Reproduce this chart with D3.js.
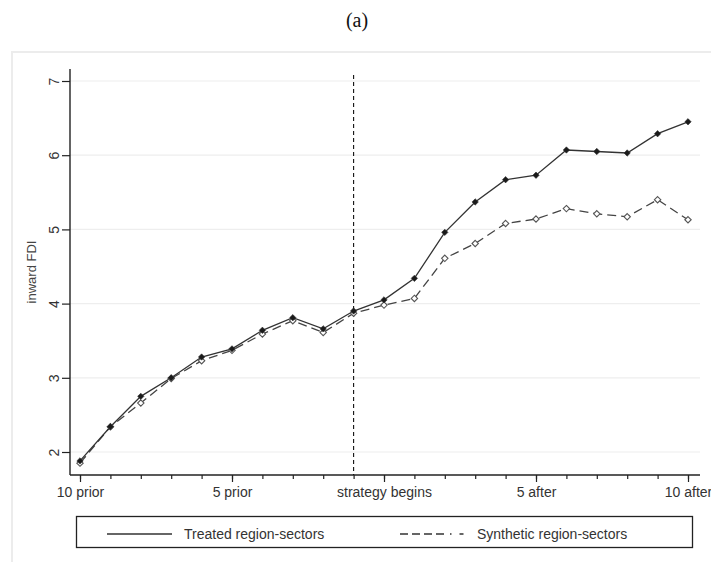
<!DOCTYPE html>
<html>
<head>
<meta charset="utf-8">
<script src="https://cdn.jsdelivr.net/npm/d3@7"></script>
<style>
    body { margin: 0; background: #fff; }
    text { font-family: "Liberation Sans", Arial, sans-serif; fill: #333; }
</style>
</head>
<body>
<div id="chart"></div>
<script>
// years relative to the start of the strategy
const years = d3.range(-10, 11);
const treated = [1.88, 2.34, 2.75, 3.00, 3.28, 3.39, 3.64, 3.81, 3.66, 3.90,
                 4.05, 4.34, 4.96, 5.37, 5.67, 5.73, 6.07, 6.05, 6.03, 6.29, 6.45];
const synthetic = [1.85, 2.34, 2.66, 2.99, 3.23, 3.37, 3.59, 3.77, 3.61, 3.87,
                   3.98, 4.07, 4.61, 4.81, 5.08, 5.14, 5.28, 5.21, 5.17, 5.40, 5.13];
const xTickValues = [-10, -5, 0, 5, 10];
const xTickLabels = ['10 prior', '5 prior', 'strategy begins', '5 after', '10 after'];
const yTickValues = [2, 3, 4, 5, 6, 7];
const strategyLine = -1;
const seriesNames = ['Treated region-sectors', 'Synthetic region-sectors'];

const W = 711, H = 562;
const svg = d3.select('#chart').append('svg')
    .attr('width', W)
    .attr('height', H);

// title
svg.append('text')
    .attr('x', 357).attr('y', 27)
    .attr('text-anchor', 'middle')
    .style('font-family', '"Liberation Serif", "Times New Roman", serif')
    .style('font-size', '20px')
    .style('fill', '#111')
    .text('(a)');

// light panel border
svg.append('path')
    .attr('d', `M12,${H} V52 H${W}`)
    .attr('fill', 'none')
    .attr('stroke', '#ececec')
    .attr('stroke-width', 2);

// scales
const xScale = d3.scaleLinear().domain([-10, 10]).range([80, 688]);
const yScale = d3.scaleLinear().domain([2, 7]).range([452, 81]);
const plotLeft = 70, plotRight = 700, plotTop = 69, plotBottom = 475;

// gridlines
svg.append('g')
    .selectAll('line')
    .data(yTickValues)
    .join('line')
    .attr('x1', plotLeft).attr('x2', plotRight)
    .attr('y1', d => yScale(d)).attr('y2', d => yScale(d))
    .attr('stroke', '#eeeeee')
    .attr('stroke-width', 1.2);

// x axis: minor ticks then major ticks
const xAxisG = svg.append('g').attr('transform', `translate(0,${plotBottom})`);
xAxisG.append('g')
    .call(d3.axisBottom(xScale).tickValues(years).tickSize(4).tickFormat(''))
    .call(g => g.select('.domain').remove());
xAxisG.append('g')
    .call(d3.axisBottom(xScale).tickValues(xTickValues).tickSize(7).tickPadding(5)
        .tickFormat((d, i) => xTickLabels[i]))
    .call(g => g.select('.domain').remove())
    .call(g => g.selectAll('text').style('font-size', '14px').style('fill', '#333'));
xAxisG.selectAll('line').attr('stroke', '#222').attr('stroke-width', 1.2);
xAxisG.append('line')
    .attr('x1', plotLeft).attr('x2', plotRight)
    .attr('stroke', '#222').attr('stroke-width', 1.4);

// y axis
const yAxisG = svg.append('g').attr('transform', `translate(${plotLeft},0)`);
yAxisG.call(d3.axisLeft(yScale).tickValues(yTickValues).tickSize(8).tickFormat(d3.format('d')))
    .call(g => g.select('.domain').remove());
yAxisG.selectAll('line').attr('stroke', '#222').attr('stroke-width', 1.2);
// rotated tick labels, reading bottom to top
yAxisG.selectAll('text')
    .attr('x', null).attr('dy', null)
    .attr('text-anchor', 'middle')
    .attr('transform', 'translate(-16,0) rotate(-90) translate(0,5)')
    .style('font-size', '14px')
    .style('fill', '#333');
yAxisG.append('line')
    .attr('y1', plotTop).attr('y2', plotBottom)
    .attr('stroke', '#222').attr('stroke-width', 1.4);

svg.append('text')
    .attr('transform', `translate(36,${(plotTop + plotBottom) / 2}) rotate(-90)`)
    .attr('text-anchor', 'middle')
    .style('font-size', '13px')
    .style('fill', '#444')
    .text('inward FDI');

// dashed vertical line where the strategy begins
svg.append('line')
    .attr('x1', xScale(strategyLine)).attr('x2', xScale(strategyLine))
    .attr('y1', plotTop + 6).attr('y2', plotBottom)
    .attr('stroke', '#111')
    .attr('stroke-width', 1.1)
    .attr('stroke-dasharray', '4,3');

// lines
const line = d3.line()
    .x((d, i) => xScale(years[i]))
    .y(d => yScale(d));

svg.append('path')
    .datum(synthetic)
    .attr('d', line)
    .attr('fill', 'none')
    .attr('stroke', '#444')
    .attr('stroke-width', 1.3)
    .attr('stroke-dasharray', '9,5');

svg.append('path')
    .datum(treated)
    .attr('d', line)
    .attr('fill', 'none')
    .attr('stroke', '#333')
    .attr('stroke-width', 1.3);

// markers
const diamond = d3.symbol().type(d3.symbolDiamond2).size(26);
svg.append('g')
    .selectAll('path')
    .data(synthetic)
    .join('path')
    .attr('d', diamond)
    .attr('transform', (d, i) => `translate(${xScale(years[i])},${yScale(d)})`)
    .attr('fill', '#fff')
    .attr('stroke', '#555')
    .attr('stroke-width', 1.1);

svg.append('g')
    .selectAll('path')
    .data(treated)
    .join('path')
    .attr('d', diamond)
    .attr('transform', (d, i) => `translate(${xScale(years[i])},${yScale(d)})`)
    .attr('fill', '#1a1a1a')
    .attr('stroke', '#333')
    .attr('stroke-width', 0.6);

// legend
const legend = svg.append('g');
legend.append('rect')
    .attr('x', 76.5).attr('y', 516.5)
    .attr('width', 616).attr('height', 31)
    .attr('fill', '#fff')
    .attr('stroke', '#222')
    .attr('stroke-width', 1.3);

const legendItems = [
    { name: seriesNames[0], x: 107, dash: null },
    { name: seriesNames[1], x: 400, dash: '8,4,8,4,8,4,8,6,1.5' }
];
legendItems.forEach(item => {
    legend.append('line')
        .attr('x1', item.x).attr('x2', item.x + 65)
        .attr('y1', 534).attr('y2', 534)
        .attr('stroke', '#333')
        .attr('stroke-width', 1.3)
        .attr('stroke-dasharray', item.dash);
    legend.append('text')
        .attr('x', item.x + 77).attr('y', 539)
        .style('font-size', '14px')
        .style('fill', '#333')
        .text(item.name);
});
</script>
</body>
</html>
